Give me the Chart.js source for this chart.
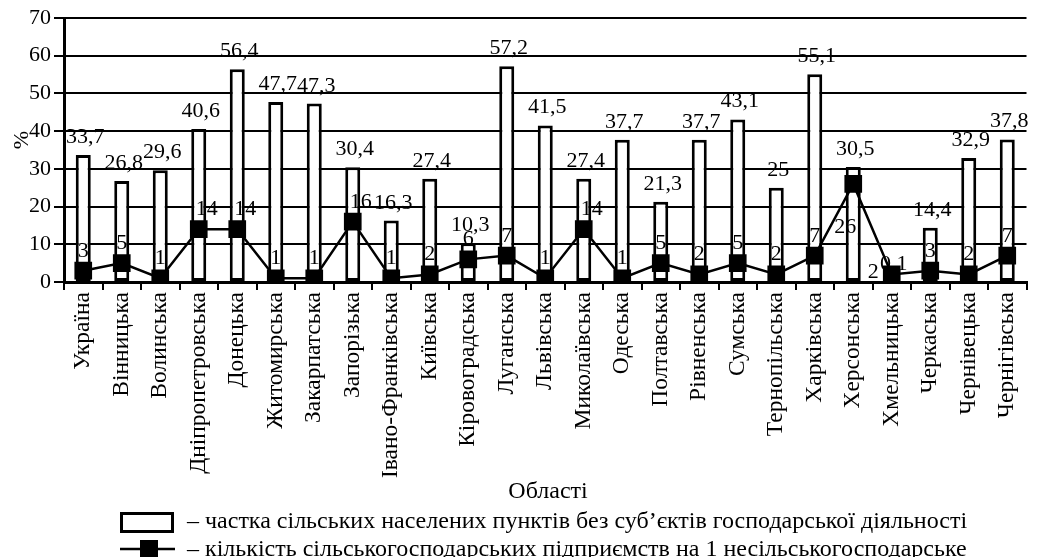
<!DOCTYPE html>
<html>
<head>
<meta charset="utf-8">
<script src="https://cdn.jsdelivr.net/npm/chart.js@4.4.1/dist/chart.umd.min.js"></script>
<style>
  html, body { margin: 0; padding: 0; background: #fff; }
  #wrap { width: 1039px; height: 557px; position: relative; }
</style>
</head>
<body>
<div id="wrap"><canvas id="c" width="1039" height="557"></canvas></div>
<script>
const categories = ['Україна','Вінницька','Волинська','Дніпропетровська','Донецька','Житомирська','Закарпатська','Запорізька','Івано-Франківська','Київська','Кіровоградська','Луганська','Львівська','Миколаївська','Одеська','Полтавська','Рівненська','Сумська','Тернопільська','Харківська','Херсонська','Хмельницька','Черкаська','Чернівецька','Чернігівська'];
const shareValues = [33.7,26.8,29.6,40.6,56.4,47.7,47.3,30.4,16.3,27.4,10.3,57.2,41.5,27.4,37.7,21.3,37.7,43.1,25,55.1,30.5,0.1,14.4,32.9,37.8];
const enterpriseValues = [3,5,1,14,14,1,1,16,1,2,6,7,1,14,1,5,2,5,2,7,26,2,3,2,7];
const yTicks = [0,10,20,30,40,50,60,70];
const xTitle = 'Області';
const yTitle = '%';
const legendShare = '– частка сільських населених пунктів без суб’єктів господарської діяльності';
const legendEnterprise = '– кількість сільськогосподарських підприємств на 1 несільськогосподарське';

const FONT = "'Liberation Serif', 'Times New Roman', serif";
const fmt = v => String(v).replace('.', ',');

// special placement of a few line labels (to avoid overlapping bar labels)
const lineLabelPlacement = { 20: 'belowLeft', 21: 'left' };

const labelsPlugin = {
  id: 'labelsPlugin',
  afterDatasetsDraw(chart) {
    const ctx = chart.ctx;
    ctx.save();
    ctx.fillStyle = '#000';
    ctx.font = '22px ' + FONT;
    ctx.textBaseline = 'alphabetic';
    const barMeta = chart.getDatasetMeta(0);
    barMeta.data.forEach((el, i) => {
      ctx.textAlign = 'center';
      ctx.fillText(fmt(shareValues[i]), el.x + 2, el.y - 12);
    });
    const lineMeta = chart.getDatasetMeta(1);
    lineMeta.data.forEach((el, i) => {
      const t = fmt(enterpriseValues[i]);
      const p = lineLabelPlacement[i];
      if (p === 'belowLeft') {
        ctx.textAlign = 'center';
        ctx.fillText(t, el.x - 8, el.y + 49);
      } else if (p === 'left') {
        ctx.textAlign = 'right';
        ctx.fillText(t, el.x - 13, el.y + 4);
      } else {
        ctx.textAlign = 'center';
        ctx.fillText(t, el.x + (t.length > 1 ? 8 : 0), el.y - 14);
      }
    });
    ctx.restore();
  },
  afterDraw(chart) {
    const ctx = chart.ctx;
    ctx.save();
    ctx.fillStyle = '#000';
    ctx.strokeStyle = '#000';
    ctx.font = '22px ' + FONT;
    ctx.save();
    ctx.translate(22, 140);
    ctx.rotate(-Math.PI / 2);
    ctx.textAlign = 'center';
    ctx.textBaseline = 'middle';
    ctx.fillText(yTitle, 0, 0);
    ctx.restore();
    ctx.font = '24px ' + FONT;
    ctx.textAlign = 'center';
    ctx.textBaseline = 'alphabetic';
    ctx.fillText(xTitle, 548, 498);
    ctx.lineWidth = 3;
    ctx.fillStyle = '#fff';
    ctx.fillRect(121.5, 513.5, 51, 18);
    ctx.strokeRect(121.5, 513.5, 51, 18);
    ctx.fillStyle = '#000';
    ctx.textAlign = 'left';
    ctx.fillText(legendShare, 187, 528);
    ctx.lineWidth = 2.5;
    ctx.beginPath();
    ctx.moveTo(120, 549);
    ctx.lineTo(175, 549);
    ctx.stroke();
    ctx.fillRect(140, 540, 18, 18);
    ctx.fillText(legendEnterprise, 187, 556);
    ctx.restore();
  }
};

new Chart(document.getElementById('c'), {
  data: {
    labels: categories,
    datasets: [
      {
        type: 'bar',
        label: legendShare,
        data: shareValues,
        backgroundColor: '#fff',
        borderColor: '#000',
        borderWidth: 3,
        borderSkipped: false,
        categoryPercentage: 1,
        barPercentage: 0.39,
        order: 2
      },
      {
        type: 'line',
        label: legendEnterprise,
        data: enterpriseValues,
        borderColor: '#000',
        borderWidth: 2.5,
        pointStyle: 'rect',
        pointRadius: 12.5,
        pointBackgroundColor: '#000',
        pointBorderColor: '#000',
        pointBorderWidth: 0,
        tension: 0,
        order: 1
      }
    ]
  },
  options: {
    responsive: false,
    animation: false,
    devicePixelRatio: 1,
    layout: { padding: { top: 18, right: 2, left: 0, bottom: 0 } },
    plugins: { legend: { display: false }, tooltip: { enabled: false }, title: { display: false } },
    scales: {
      x: {
        type: 'category',
        offset: true,
        grid: { display: true, drawOnChartArea: false, drawTicks: true, tickLength: 8, color: '#000', lineWidth: 2, offset: true },
        border: { display: true, color: '#000', width: 3 },
        ticks: { autoSkip: false, minRotation: 90, maxRotation: 90, padding: 2, color: '#000', font: { family: FONT, size: 23.5 } },
        afterFit: s => { s.height = 275; }
      },
      y: {
        min: 0,
        max: 70,
        afterBuildTicks: s => { s.ticks = yTicks.map(v => ({ value: v })); },
        grid: { color: '#000', lineWidth: 2, tickLength: 10, drawTicks: true },
        border: { display: true, color: '#000', width: 3 },
        ticks: { padding: 3, color: '#000', font: { family: FONT, size: 22 } },
        afterFit: s => { s.width = 64; }
      }
    }
  },
  plugins: [labelsPlugin]
});
</script>
</body>
</html>
